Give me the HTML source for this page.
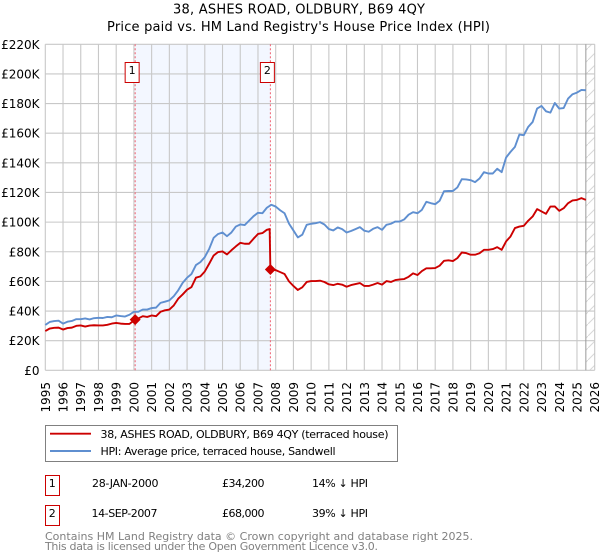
<!DOCTYPE html>
<html lang="en">
<head>
<meta charset="utf-8">
<title>38, ASHES ROAD, OLDBURY, B69 4QY</title>
<style>
html,body{margin:0;padding:0;background:#fff;}
svg{display:block;font-family:"DejaVu Sans","Liberation Sans",sans-serif;}
</style>
</head>
<body>
<svg id="chart" xmlns="http://www.w3.org/2000/svg" width="600" height="560" viewBox="0 0 600 560">
  <defs>
    <pattern id="hatch" patternUnits="userSpaceOnUse" width="12" height="12">
      <path d="M0 12 L12 0" stroke="#d8d8d8" stroke-width="1" fill="none"/>
    </pattern>
  </defs>
  <rect width="600" height="560" fill="#fff"/>
  <text x="173" y="13.5" font-size="13" fill="#000" textLength="252" lengthAdjust="spacing">38, ASHES ROAD, OLDBURY, B69 4QY</text>
  <text x="107" y="31" font-size="13" fill="#000" textLength="383" lengthAdjust="spacing">Price paid vs. HM Land Registry's House Price Index (HPI)</text>
  <g id="plot"></g>

  <g>
    <rect x="45.5" y="425.5" width="352" height="36" fill="#fff" stroke="#808080" stroke-width="1"/>
    <line x1="50" x2="91" y1="433.7" y2="433.7" stroke="#cc0000" stroke-width="1.9"/>
    <text x="100.5" y="438" font-size="11" fill="#000" textLength="288" lengthAdjust="spacing">38, ASHES ROAD, OLDBURY, B69 4QY (terraced house)</text>
    <line x1="50" x2="91" y1="451" y2="451" stroke="#5f8fd0" stroke-width="1.9"/>
    <text x="100.5" y="455" font-size="11" fill="#000" textLength="235" lengthAdjust="spacing">HPI: Average price, terraced house, Sandwell</text>
  </g>

  <g font-size="11" fill="#000">
    <rect x="45.5" y="475.5" width="14" height="20" fill="#fff" stroke="#cc0000" stroke-width="1"/>
    <text x="52.3" y="487" text-anchor="middle">1</text>
    <text x="92" y="487" textLength="66.5" lengthAdjust="spacing">28-JAN-2000</text>
    <text x="222" y="487" textLength="42.5" lengthAdjust="spacing">£34,200</text>
    <text x="312" y="487" textLength="56" lengthAdjust="spacing">14% ↓ HPI</text>
    <rect x="45.5" y="505.5" width="14" height="20" fill="#fff" stroke="#cc0000" stroke-width="1"/>
    <text x="52.3" y="517" text-anchor="middle">2</text>
    <text x="91.5" y="517" textLength="66" lengthAdjust="spacing">14-SEP-2007</text>
    <text x="222" y="517" textLength="42.5" lengthAdjust="spacing">£68,000</text>
    <text x="312" y="517" textLength="56" lengthAdjust="spacing">39% ↓ HPI</text>
  </g>

  <text x="45" y="540" font-size="11" fill="#808080" textLength="428" lengthAdjust="spacing">Contains HM Land Registry data © Crown copyright and database right 2025.</text>
  <text x="45" y="550" font-size="11" fill="#808080" textLength="333" lengthAdjust="spacing">This data is licensed under the Open Government Licence v3.0.</text>
</svg>
<script>
const yTickValues = [0, 20, 40, 60, 80, 100, 120, 140, 160, 180, 200, 220];
const yTickLabels = ["£0", "£20K", "£40K", "£60K", "£80K", "£100K", "£120K", "£140K", "£160K", "£180K", "£200K", "£220K"];
const xTickYears = [1995, 1996, 1997, 1998, 1999, 2000, 2001, 2002, 2003, 2004, 2005, 2006, 2007, 2008, 2009, 2010, 2011, 2012, 2013, 2014, 2015, 2016, 2017, 2018, 2019, 2020, 2021, 2022, 2023, 2024, 2025, 2026];
const quarters = [
  1995, 1995.25, 1995.5, 1995.75, 1996, 1996.25, 1996.5, 1996.75,
  1997, 1997.25, 1997.5, 1997.75, 1998, 1998.25, 1998.5, 1998.75,
  1999, 1999.25, 1999.5, 1999.75, 2000, 2000.25, 2000.5, 2000.75,
  2001, 2001.25, 2001.5, 2001.75, 2002, 2002.25, 2002.5, 2002.75,
  2003, 2003.25, 2003.5, 2003.75, 2004, 2004.25, 2004.5, 2004.75,
  2005, 2005.25, 2005.5, 2005.75, 2006, 2006.25, 2006.5, 2006.75,
  2007, 2007.25, 2007.5, 2007.75, 2008, 2008.25, 2008.5, 2008.75,
  2009, 2009.25, 2009.5, 2009.75, 2010, 2010.25, 2010.5, 2010.75,
  2011, 2011.25, 2011.5, 2011.75, 2012, 2012.25, 2012.5, 2012.75,
  2013, 2013.25, 2013.5, 2013.75, 2014, 2014.25, 2014.5, 2014.75,
  2015, 2015.25, 2015.5, 2015.75, 2016, 2016.25, 2016.5, 2016.75,
  2017, 2017.25, 2017.5, 2017.75, 2018, 2018.25, 2018.5, 2018.75,
  2019, 2019.25, 2019.5, 2019.75, 2020, 2020.25, 2020.5, 2020.75,
  2021, 2021.25, 2021.5, 2021.75, 2022, 2022.25, 2022.5, 2022.75,
  2023, 2023.25, 2023.5, 2023.75, 2024, 2024.25, 2024.5, 2024.75,
  2025, 2025.25, 2025.5
];
const hpiValues = [
  30.6, 32.6, 33.2, 33.5, 31.5, 32.8, 33.3, 34.5,
  34.5, 35, 34.3, 35.2, 35.4, 35.3, 36, 35.8,
  37, 36.6, 36.3, 37.5, 39.5, 39.5, 41, 41,
  42, 42.3, 45.5, 46.3, 47.2, 50, 54, 59,
  62.5, 65, 71, 73, 76.4, 82, 89.4, 92,
  93, 90.5, 93, 97, 98.4, 98, 101, 104,
  106.3, 106, 109.7, 111.7, 110.5, 108, 106, 99,
  94.4, 89.7, 91.5, 98.2, 98.9, 99.3, 100, 98.4,
  95.3, 94.4, 96.4, 95.3, 93, 94, 95.3, 96.6,
  94.2, 93.5, 95.5, 96.6, 94.8, 98.2, 98.9, 100.4,
  100.4, 101.8, 105, 106.7, 106, 108.3, 113.7, 112.8,
  112.1, 114.4, 120.9, 121, 121, 123.4, 129, 128.8,
  128.3, 127, 129.4, 133.7, 132.8, 132.8, 136, 133.7,
  143.6, 147.4, 150.8, 159.1, 158.7, 164.3, 167.6, 176.6,
  178.4, 174.8, 173.9, 180.4, 176.6, 177, 183.4, 186.3,
  187.4, 189.2, 189
];
const paidValues = [
  26.5, 28.2, 28.7, 28.8, 27.5, 28.5, 28.8, 30,
  30.3, 29.5, 30.2, 30.4, 30.3, 30.3, 30.7, 31.5,
  32, 31.5, 31.3, 31.3, 33.5, 35, 36.5, 36,
  37, 36.5, 39.5, 40.5, 41, 43.8, 48.3, 51.2,
  54.4, 56.2, 62.5, 63.4, 66.7, 72, 77.5, 79.8,
  80.2, 78.2, 81, 83.6, 86, 85.4, 85.4, 88.8,
  92, 92.6, 94.8, 67.9, 67.6, 66.3, 65, 60,
  56.9, 54.2, 56, 59.6, 60.2, 60.2, 60.5, 59.6,
  58, 57.5, 58.4, 57.8, 56.4, 57.5, 58.2, 58.9,
  56.9, 56.9, 57.8, 58.9, 57.8, 60.2, 59.6, 60.9,
  61.3, 61.6, 63.1, 65.4, 64.3, 67, 68.8, 68.8,
  69, 70.6, 73.9, 74.2, 73.7, 75.7, 79.5, 79.1,
  78, 78, 79, 81.3, 81.3, 81.8, 83.1, 81.3,
  87, 90.3, 96, 97, 97.5, 101, 103.8, 108.8,
  107.2, 105.6, 110.5, 110.6, 107.6, 109.4, 112.8, 114.6,
  115, 116.2, 115
];
const preDropDates = [2007.66];
const preDropValues = [95.3];
const saleDates = [2000.07, 2007.70];
const salePrices = [34.2, 68];
const saleNumbers = ["1", "2"];
const dataEndDate = 2025.5;

const NS = 'http://www.w3.org/2000/svg';
const plot = document.getElementById('plot');
const xLeft = 45.3, xRight = 594.7, yBottom = 370.3, yTop = 44.3;
const xMin = 1995, xMax = 2026, yMin = 0, yMax = 220;
function xScale(year) { return xLeft + (year - xMin) / (xMax - xMin) * (xRight - xLeft); }
function yScale(value) { return yBottom - (value - yMin) / (yMax - yMin) * (yBottom - yTop); }
function make(tag, attrs, parent) {
  const el = document.createElementNS(NS, tag);
  for (const k in attrs) el.setAttribute(k, attrs[k]);
  (parent || plot).appendChild(el);
  return el;
}

const shade = make('rect', {x: xScale(saleDates[0]), y: yTop, width: xScale(saleDates[1]) - xScale(saleDates[0]), height: yBottom - yTop, fill: '#f3f7ff'});



const hatch = make('rect', {x: xScale(dataEndDate), y: yTop, width: xRight - xScale(dataEndDate), height: yBottom - yTop, fill: 'url(#hatch)'});



yTickValues.forEach(function (v, i) {
  const grid = make('line', {x1: xLeft, x2: xRight, y1: yScale(v), y2: yScale(v), stroke: '#c8c8c8', 'stroke-width': 1.1});
  
  
  const label = make('text', {x: 39.5, y: yScale(v) + 4.5, 'text-anchor': 'end', 'font-size': 12, fill: '#000'});
  label.textContent = yTickLabels[i];
  
  
});

xTickYears.forEach(function (year) {
  const grid = make('line', {x1: xScale(year), x2: xScale(year), y1: yTop, y2: yBottom, stroke: '#c8c8c8', 'stroke-width': 1.1});
  
  
  const label = make('text', {transform: 'translate(' + (xScale(year) + 4.5) + ',382) rotate(-90)', 'text-anchor': 'end', 'font-size': 12, fill: '#000'});
  label.textContent = String(year);
  
  
});

const endLine = make('line', {x1: xScale(dataEndDate), x2: xScale(dataEndDate), y1: yTop, y2: yBottom, stroke: '#999999', 'stroke-width': 1});



saleDates.forEach(function (d) {
  const v = make('line', {x1: xScale(d), x2: xScale(d), y1: yTop, y2: yBottom, stroke: '#f06070', 'stroke-width': 1, 'stroke-dasharray': '2 2'});
  
  
});

function linePath(xs, ys) {
  return xs.map(function (x, i) { return (i ? 'L' : 'M') + xScale(x).toFixed(2) + ' ' + yScale(ys[i]).toFixed(2); }).join(' ');
}

const hpiLine = make('path', {d: linePath(quarters, hpiValues), fill: 'none', stroke: '#5f8fd0', 'stroke-width': 1.9, 'stroke-linejoin': 'round'});



const paidPoints = quarters.map(function (q, i) { return [q, paidValues[i]]; })
  .concat(preDropDates.map(function (q, i) { return [q, preDropValues[i]]; }))
  .concat(saleDates.map(function (q, i) { return [q, salePrices[i]]; }))
  .sort(function (a, b) { return a[0] - b[0]; });
const paidLine = make('path', {
  d: linePath(paidPoints.map(function (p) { return p[0]; }), paidPoints.map(function (p) { return p[1]; })),
  fill: 'none', stroke: '#cc0000', 'stroke-width': 1.9, 'stroke-linejoin': 'round'
});



saleDates.forEach(function (d, i) {
  const cx = xScale(d), cy = yScale(salePrices[i]);
  const diamond = make('path', {d: 'M' + (cx - 5.5) + ' ' + cy + ' L' + cx + ' ' + (cy - 5.5) + ' L' + (cx + 5.5) + ' ' + cy + ' L' + cx + ' ' + (cy + 5.5) + ' Z', fill: '#cc0000'});
  
  
  const box = make('rect', {x: cx - 10, y: 62.5, width: 14, height: 20, fill: '#fff', stroke: '#cc0000', 'stroke-width': 1});
  
  
  const num = make('text', {x: cx - 3, y: 74, 'text-anchor': 'middle', 'font-size': 11, fill: '#000'});
  num.textContent = saleNumbers[i];
  
  
});
</script>
</body>
</html>
